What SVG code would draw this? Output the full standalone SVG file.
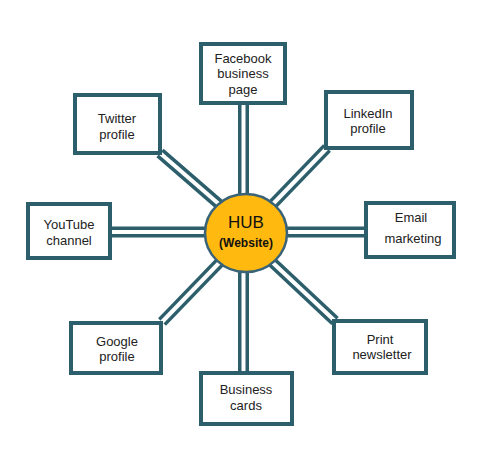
<svg xmlns="http://www.w3.org/2000/svg" width="479" height="464" viewBox="0 0 479 464">
<style>
.outer{stroke:#2c5f6b;stroke-width:11;fill:none}
.inner{stroke:#ffffff;stroke-width:4;fill:none}
.box{fill:#ffffff;stroke:#2c5f6b;stroke-width:4}
.t{font-family:"Liberation Sans",Arial,sans-serif;font-size:13px;fill:#222222;text-anchor:middle}
</style>
<rect width="479" height="464" fill="#ffffff"/>
<g id="connectors">
<g class="outer">
<line x1="243.5" y1="104" x2="243.5" y2="200"/>
<line x1="243.5" y1="265" x2="243.5" y2="372"/>
<line x1="110" y1="232" x2="210" y2="232"/>
<line x1="282" y1="232" x2="365" y2="232"/>
<line x1="160" y1="153" x2="220" y2="205"/>
<line x1="327" y1="148" x2="272" y2="205"/>
<line x1="162" y1="322" x2="220" y2="262"/>
<line x1="335" y1="321" x2="272" y2="262"/>
</g>
<g class="inner">
<line x1="243.5" y1="104" x2="243.5" y2="200"/>
<line x1="243.5" y1="265" x2="243.5" y2="372"/>
<line x1="110" y1="232" x2="210" y2="232"/>
<line x1="282" y1="232" x2="365" y2="232"/>
<line x1="160" y1="153" x2="220" y2="205"/>
<line x1="327" y1="148" x2="272" y2="205"/>
<line x1="162" y1="322" x2="220" y2="262"/>
<line x1="335" y1="321" x2="272" y2="262"/>
</g>
</g>
<g id="hub">
<ellipse cx="246" cy="233" rx="41" ry="39" fill="#ffb90f" stroke="#3a6378" stroke-width="2.5"/>
<text class="t" x="246" y="228" style="font-size:17px;fill:#111">HUB</text>
<text class="t" x="246" y="247" style="font-size:12px;font-weight:bold;fill:#111">(Website)</text>
</g>
<g id="facebook">
<rect class="box" x="201" y="44" width="84" height="59"/>
<text class="t" x="243" y="63">Facebook</text>
<text class="t" x="243" y="78">business</text>
<text class="t" x="243" y="94">page</text>
</g>
<g id="twitter">
<rect class="box" x="75" y="95" width="85" height="58"/>
<text class="t" x="117" y="123">Twitter</text>
<text class="t" x="117" y="139">profile</text>
</g>
<g id="linkedin">
<rect class="box" x="326" y="92" width="86" height="56"/>
<text class="t" x="368" y="118">LinkedIn</text>
<text class="t" x="368" y="133">profile</text>
</g>
<g id="youtube">
<rect class="box" x="28" y="204" width="82" height="54"/>
<text class="t" x="69" y="229">YouTube</text>
<text class="t" x="69" y="245">channel</text>
</g>
<g id="email">
<rect class="box" x="366" y="203" width="88" height="54"/>
<text class="t" x="411" y="222">Email</text>
<text class="t" x="413" y="243">marketing</text>
</g>
<g id="google">
<rect class="box" x="71" y="323" width="90" height="50"/>
<text class="t" x="117" y="346">Google</text>
<text class="t" x="117" y="361">profile</text>
</g>
<g id="print">
<rect class="box" x="334" y="321" width="92" height="52"/>
<text class="t" x="380" y="344">Print</text>
<text class="t" x="382" y="359">newsletter</text>
</g>
<g id="business">
<rect class="box" x="201" y="373" width="91" height="51"/>
<text class="t" x="246" y="394">Business</text>
<text class="t" x="246" y="410">cards</text>
</g>
</svg>
